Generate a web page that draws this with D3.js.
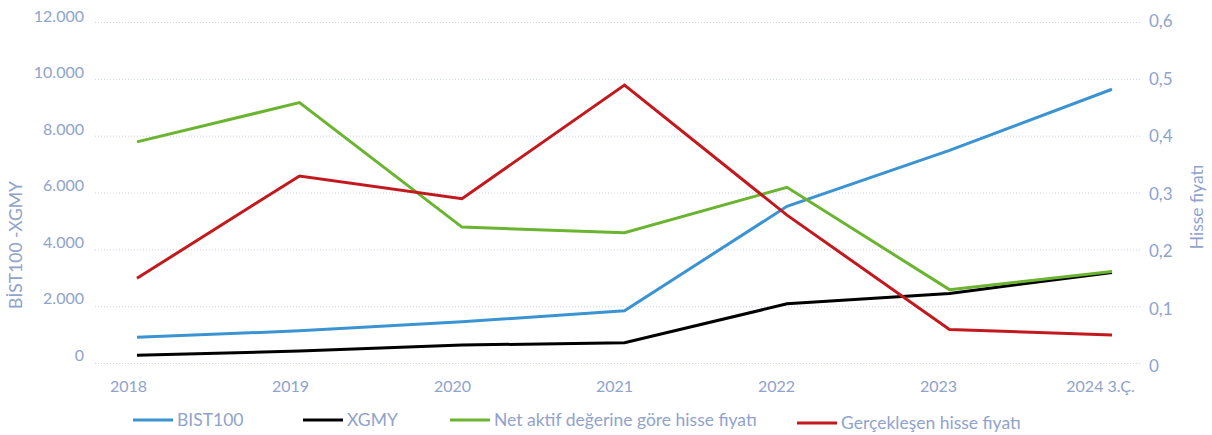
<!DOCTYPE html>
<html>
<head>
<meta charset="utf-8">
<script src="https://cdn.jsdelivr.net/npm/d3@7"></script>
<style>
  body { margin: 0; background: #fff; }
  text { font-family: Lato, "Open Sans", sans-serif; fill: #8fa3cd; }
</style>
</head>
<body>
<script>
// data
const years = ["2018", "2019", "2020", "2021", "2022", "2023", "2024 3.Ç."];
const bist100 = [920, 1150, 1470, 1855, 5530, 7500, 9650];
const xgmy = [290, 440, 650, 730, 2100, 2465, 3205];
const netAktif = [0.39, 0.459, 0.24, 0.23, 0.31, 0.13, 0.162];
const gerceklesen = [0.15, 0.33, 0.29, 0.49, 0.261, 0.06, 0.05];

const leftTicks = [0, 2000, 4000, 6000, 8000, 10000, 12000];
const rightTicks = [0, 0.1, 0.2, 0.3, 0.4, 0.5, 0.6];

const w = 1212, h = 435;

const svg = d3.select("body").append("svg")
  .attr("width", w)
  .attr("height", h);

const x = d3.scalePoint().domain(years).range([137, 1112]);
const xLab = d3.scalePoint().domain(years).range([128, 1100]);
const yL = d3.scaleLinear().domain([0, 12000]).range([363.5, 22.5]);
const yR = d3.scaleLinear().domain([0, 0.6]).range([363.5, 22.5]);
// tick labels in the picture sit a bit off the gridlines
const yLLab = d3.scaleLinear().domain([0, 12000]).range([355, 16]);
const yRLab = d3.scaleLinear().domain([0, 0.6]).range([366, 21.5]);

const fmtL = d => d3.format(",")(d).replace(/,/g, ".");
const fmtR = d => d === 0 ? "0" : d3.format(".1f")(d).replace(".", ",");

// gridlines
svg.append("g")
  .selectAll("line")
  .data(leftTicks).enter()
  .append("line")
  .attr("x1", 95).attr("x2", 1140)
  .attr("y1", d => yL(d)).attr("y2", d => yL(d))
  .style("stroke", "#c9d3ea")
  .style("stroke-width", 1)
  .style("stroke-dasharray", "1,2");

// left axis
const gL = svg.append("g")
  .attr("transform", "translate(84,0)")
  .call(d3.axisLeft(yLLab).tickValues(leftTicks).tickFormat(fmtL).tickSize(0).tickPadding(0));
gL.select(".domain").remove();
gL.selectAll("text").style("font-size", "16px").style("fill", "#8fa3cd").attr("font-family", null);

// right axis
const gR = svg.append("g")
  .attr("transform", "translate(1149,0)")
  .call(d3.axisRight(yRLab).tickValues(rightTicks).tickFormat(fmtR).tickSize(0).tickPadding(0));
gR.select(".domain").remove();
gR.selectAll("text").style("font-size", "17px").style("fill", "#8fa3cd").attr("font-family", null);

// x axis labels
const gX = svg.append("g")
  .attr("transform", "translate(0,386)")
  .call(d3.axisBottom(xLab).tickSize(0).tickPadding(0));
gX.select(".domain").remove();
gX.selectAll("text")
  .attr("dy", "0.35em")
  .style("font-size", "16px").style("fill", "#8fa3cd").attr("font-family", null);

// axis titles
svg.append("text")
  .attr("transform", "translate(22,245) rotate(-90)")
  .attr("text-anchor", "middle")
  .style("font-size", "17.5px")
  .text("BİST100 -XGMY");

svg.append("text")
  .attr("transform", "translate(1203,207) rotate(-90)")
  .attr("text-anchor", "middle")
  .style("font-size", "17.5px")
  .text("Hisse fiyatı");

// lines
const series = [
  { name: "BIST100", values: bist100, y: yL, color: "#3b94d1" },
  { name: "XGMY", values: xgmy, y: yL, color: "#000000" },
  { name: "Net aktif değerine göre hisse fiyatı", values: netAktif, y: yR, color: "#6ab42f" },
  { name: "Gerçekleşen hisse fiyatı", values: gerceklesen, y: yR, color: "#c2191f" }
];

series.forEach(s => {
  const line = d3.line()
    .x((d, i) => x(years[i]))
    .y(d => s.y(d));
  svg.append("path")
    .datum(s.values)
    .attr("d", line)
    .style("fill", "none")
    .style("stroke", s.color)
    .style("stroke-width", 3)
    .style("stroke-linejoin", "miter");
});

// legend
const legendX = [133, 303, 450, 797];
const legendY = [420, 420, 420, 423];
const legend = svg.selectAll(".legend")
  .data(series).enter()
  .append("g")
  .classed("legend", true)
  .attr("transform", (d, i) => `translate(${legendX[i]},${legendY[i]})`);

legend.append("line")
  .attr("x1", 0).attr("x2", 40)
  .attr("y1", 0).attr("y2", 0)
  .style("stroke", d => d.color)
  .style("stroke-width", 3);

legend.append("text")
  .attr("x", 44)
  .attr("dy", "0.35em")
  .style("font-size", "17.5px")
  .text(d => d.name);
</script>
</body>
</html>
